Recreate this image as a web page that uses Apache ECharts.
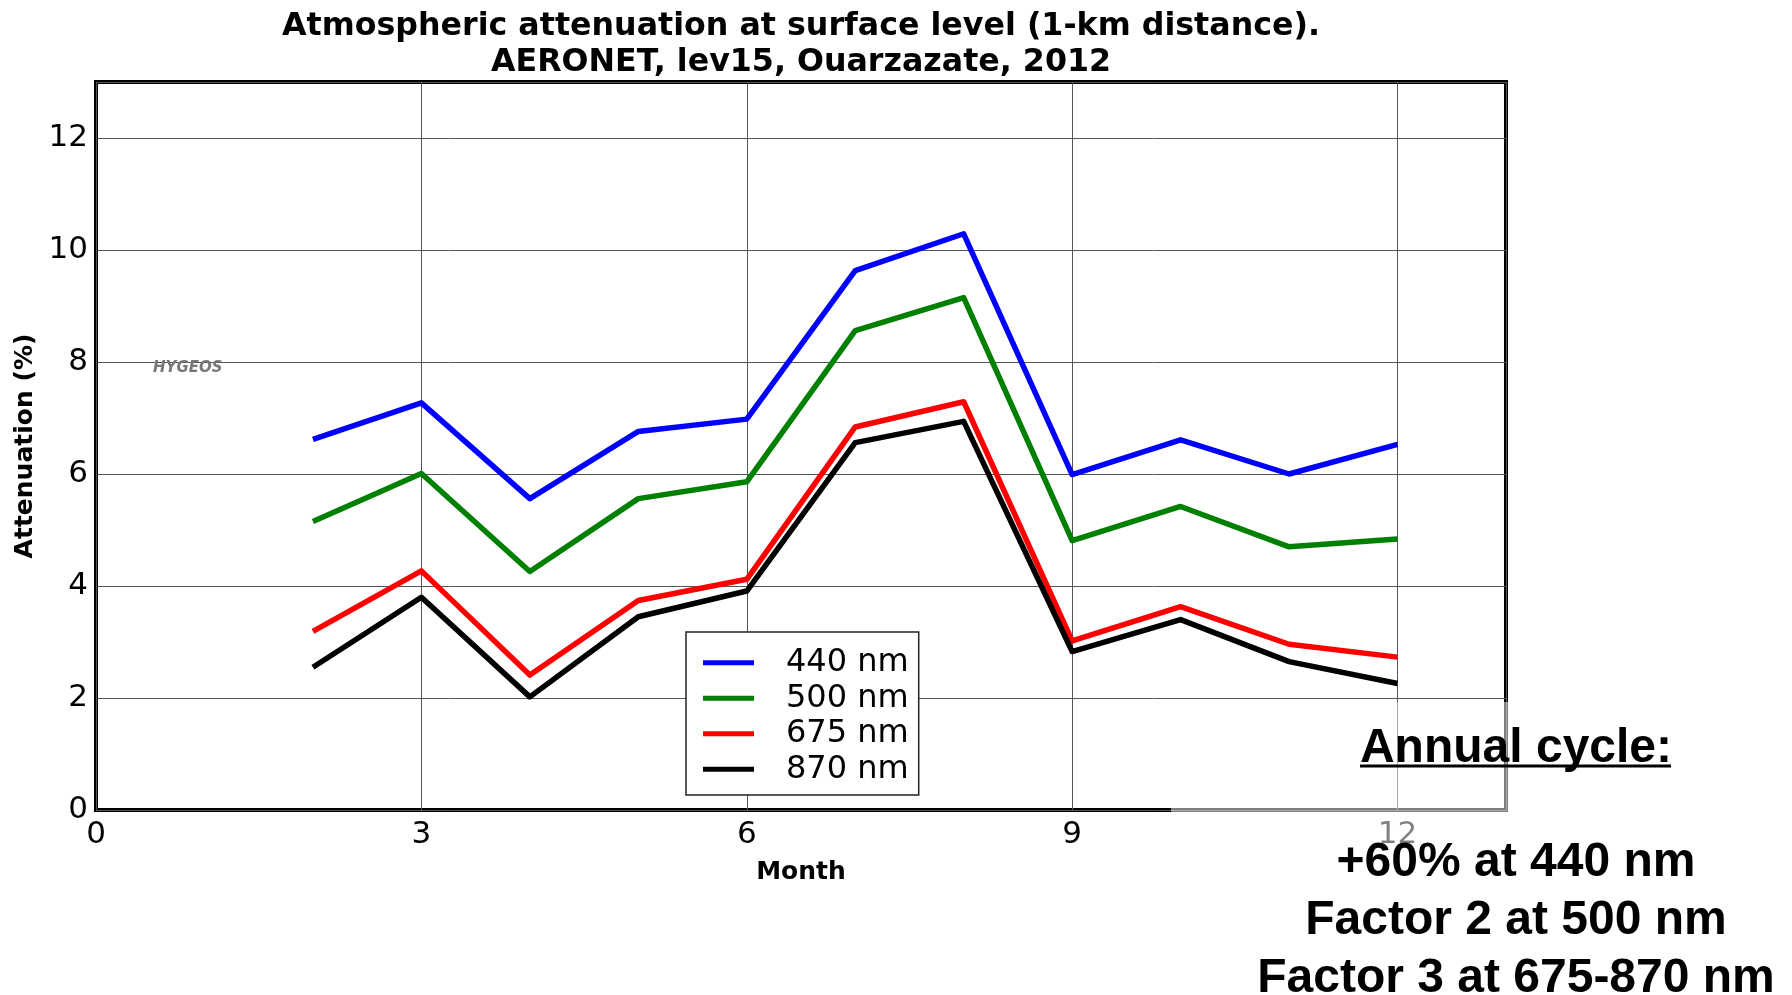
<!DOCTYPE html>
<html>
<head>
<meta charset="utf-8">
<script src="https://cdn.jsdelivr.net/npm/echarts@6/dist/echarts.min.js"></script>
<style>
  html, body { margin: 0; padding: 0; background: #fff; }
  #chart { width: 1792px; height: 995px; }
</style>
</head>
<body>
<div id="chart"></div>
<script>
// Monthly mean atmospheric attenuation over a 1-km path, Ouarzazate 2012
const months = [2, 3, 4, 5, 6, 7, 8, 9, 10, 11, 12];
const att440 = [6.62, 7.27, 5.56, 6.76, 6.98, 9.63, 10.29, 5.99, 6.61, 6.00, 6.53];
const att500 = [5.15, 6.01, 4.26, 5.56, 5.86, 8.56, 9.15, 4.81, 5.42, 4.70, 4.84];
const att675 = [3.19, 4.27, 2.41, 3.74, 4.12, 6.84, 7.29, 3.02, 3.63, 2.96, 2.73];
const att870 = [2.55, 3.80, 2.02, 3.45, 3.91, 6.56, 6.94, 2.83, 3.40, 2.65, 2.26];

const seriesNames = ['440 nm', '500 nm', '675 nm', '870 nm'];
const seriesColors = ['#0000ff', '#008000', '#ff0000', '#000000'];
const seriesValues = [att440, att500, att675, att870];

const xTickLabels = [0, 3, 6, 9, 12];
const yTickLabels = [0, 2, 4, 6, 8, 10, 12];

const titleLines = [
  'Atmospheric attenuation at surface level (1-km distance).',
  'AERONET, lev15, Ouarzazate, 2012'
];
const noteHeading = 'Annual cycle:';
const noteLines = ['+60% at 440 nm', 'Factor 2 at 500 nm', 'Factor 3 at 675-870 nm'];

const FONT = '"DejaVu Sans", sans-serif';
const NOTE_FONT = '"Liberation Sans", Arial, sans-serif';

const chart = echarts.init(document.getElementById('chart'), null, { renderer: 'canvas' });

const plot = { left: 96, top: 82, right: 1506, bottom: 810 };
const plotCenterX = (plot.left + plot.right) / 2;

const option = {
  animation: false,
  backgroundColor: '#ffffff',
  grid: {
    left: plot.left,
    top: plot.top,
    width: plot.right - plot.left,
    height: plot.bottom - plot.top,
    show: true,
    borderColor: '#000000',
    borderWidth: 4,
    backgroundColor: 'transparent'
  },
  xAxis: {
    type: 'value',
    min: 0,
    max: 13,
    interval: 3,
    name: 'Month',
    nameLocation: 'middle',
    nameGap: 50,
    nameTextStyle: { fontFamily: FONT, fontWeight: 'bold', fontSize: 25, color: '#000' },
    axisLine: { show: false },
    axisTick: { show: false },
    axisLabel: {
      margin: 9,
      fontFamily: FONT,
      fontSize: 31,
      color: '#000',
      formatter: v => (xTickLabels.includes(v) ? String(v) : '')
    },
    splitLine: { show: true, lineStyle: { color: '#555', width: 1 } }
  },
  yAxis: {
    type: 'value',
    min: 0,
    max: 13,
    interval: 2,
    name: 'Attenuation (%)',
    nameLocation: 'middle',
    nameGap: 51,
    nameTextStyle: { fontFamily: FONT, fontWeight: 'bold', fontSize: 25, color: '#000' },
    axisLine: { show: false },
    axisTick: { show: false },
    axisLabel: {
      margin: 8,
      fontFamily: FONT,
      fontSize: 31,
      color: '#000',
      formatter: v => (yTickLabels.includes(v) ? String(v) : '')
    },
    splitLine: { show: true, lineStyle: { color: '#555', width: 1 } }
  },
  legend: {
    orient: 'vertical',
    left: 686,
    top: 632,
    data: seriesNames,
    icon: 'rect',
    itemWidth: 51,
    itemHeight: 5,
    itemGap: 0,
    padding: [13, 10, 8, 17],
    backgroundColor: '#ffffff',
    borderColor: '#222',
    borderWidth: 1.5,
    borderRadius: 0,
    textStyle: {
      fontFamily: FONT,
      fontSize: 32,
      color: '#000',
      lineHeight: 35.5,
      padding: [0, 0, 0, 27]
    }
  },
  series: seriesNames.map((name, i) => ({
    name: name,
    type: 'line',
    data: months.map((m, k) => [m, seriesValues[i][k]]),
    symbol: 'none',
    smooth: false,
    lineStyle: { color: seriesColors[i], width: 5.5, join: 'round' },
    itemStyle: { color: seriesColors[i] },
    z: 3 + i
  })),
  graphic: [
    {
      type: 'text', x: plotCenterX, y: 26.5, z: 50,
      style: { text: titleLines[0], font: `bold 31.7px ${FONT}`, fill: '#000', align: 'center', verticalAlign: 'middle' }
    },
    {
      type: 'text', x: plotCenterX, y: 63, z: 50,
      style: { text: titleLines[1], font: `bold 31.7px ${FONT}`, fill: '#000', align: 'center', verticalAlign: 'middle' }
    },
    {
      type: 'text', x: 153, y: 368, z: 50,
      style: { text: 'HYGEOS', font: `italic bold 15px ${FONT}`, fill: '#777', align: 'left', verticalAlign: 'middle' }
    },
    // translucent white panel behind the annual-cycle note
    {
      type: 'rect', z: 100,
      shape: { x: 1171, y: 702, width: 621, height: 293 },
      style: { fill: 'rgba(255,255,255,0.5)' }
    },
    {
      type: 'text', x: 1516, y: 748.5, z: 101,
      style: { text: noteHeading, font: `bold 48px ${NOTE_FONT}`, fill: '#000', align: 'center', verticalAlign: 'middle' }
    },
    {
      type: 'line', z: 101,
      shape: { x1: 1360, y1: 766, x2: 1671, y2: 766 },
      style: { stroke: '#000', lineWidth: 3 }
    },
    {
      type: 'text', x: 1516, y: 863, z: 101,
      style: { text: noteLines[0], font: `bold 48px ${NOTE_FONT}`, fill: '#000', align: 'center', verticalAlign: 'middle' }
    },
    {
      type: 'text', x: 1516, y: 921, z: 101,
      style: { text: noteLines[1], font: `bold 48px ${NOTE_FONT}`, fill: '#000', align: 'center', verticalAlign: 'middle' }
    },
    {
      type: 'text', x: 1516, y: 978.5, z: 101,
      style: { text: noteLines[2], font: `bold 48px ${NOTE_FONT}`, fill: '#000', align: 'center', verticalAlign: 'middle' }
    }
  ]
};

chart.setOption(option);
</script>
</body>
</html>
